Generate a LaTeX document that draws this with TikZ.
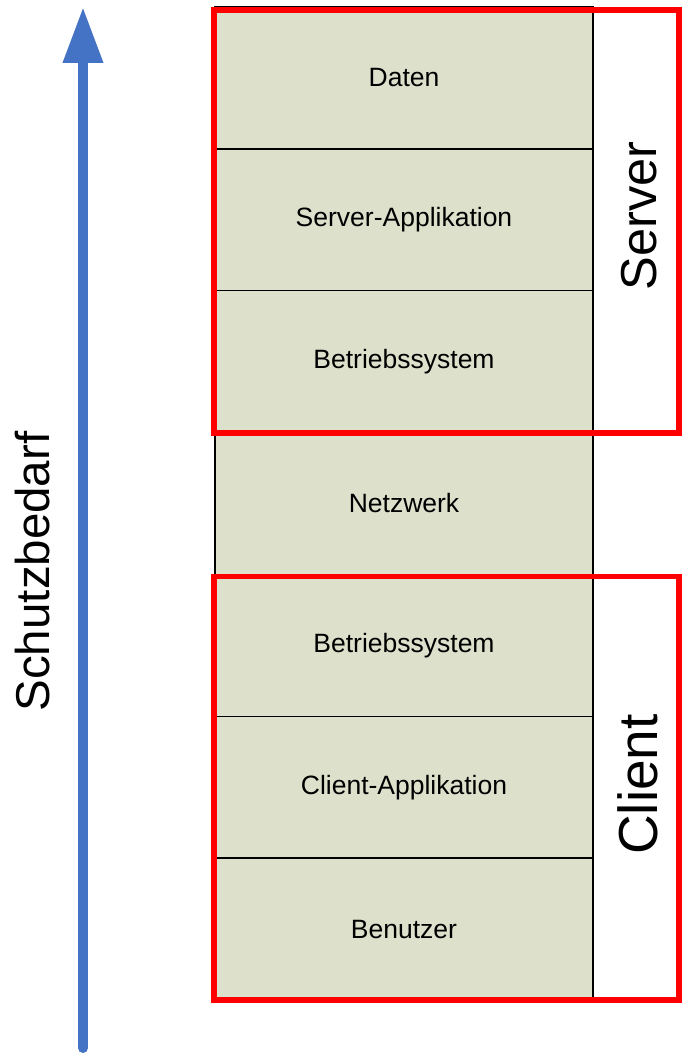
\documentclass[tikz,border=0pt]{standalone}
\usepackage{fontspec}
\setmainfont{Liberation Sans}
\usetikzlibrary{arrows.meta}
\definecolor{cellfill}{RGB}{221,224,203}
\definecolor{arrowblue}{RGB}{68,114,196}
\tikzset{
  layer/.style={draw=black, line width=1.5pt, fill=cellfill, minimum width=378pt, minimum height=141.86pt, inner sep=0pt, font=\fontsize{26.5}{30}\selectfont},
  groupbox/.style={draw=red, line width=5.5pt, inner sep=0pt, minimum width=465pt},
  grouplabel/.style={rotate=90, inner sep=0pt},
  axisarrow/.style={draw=arrowblue, line width=10pt, line cap=round, -{Triangle[length=56pt,width=38pt]}}
}
\begin{document}
\begin{tikzpicture}[x=1pt,y=-1pt]
\useasboundingbox (0,0) rectangle (681,1054);
\fill[white] (0,0) rectangle (681,1054);
% stack of layers
\node[layer] (daten) at (404,77.93) {Daten};
\node[layer] (sapp)  at (404,219.79) {Server-Applikation};
\node[layer] (sbs)   at (404,361.64) {Betriebssystem};
\node[layer] (netz)  at (404,503.50) {Netzwerk};
\node[layer] (cbs)   at (404,645.36) {Betriebssystem};
\node[layer] (capp)  at (404,787.21) {Client-Applikation};
\node[layer] (ben)   at (404,929.07) {Benutzer};
% group boxes
\node[groupbox, minimum height=423pt] (server) at (446.5,221.5) {};
\node[groupbox, minimum height=423.5pt] (client) at (446.5,788.25) {};
\node[grouplabel, font=\fontsize{50.5}{56}\selectfont] (serverlbl) at (639,216) {Server};
\node[grouplabel, font=\fontsize{55}{60}\selectfont] (clientlbl) at (638,784.5) {Client};
% axis
\coordinate (abot) at (83,1048);
\coordinate (atop) at (83,7);
\draw[axisarrow] (abot) -- (atop);
\node[grouplabel, font=\fontsize{47.5}{52}\selectfont] (schutz) at (33,571.5) {Schutzbedarf};
\end{tikzpicture}
\end{document}
